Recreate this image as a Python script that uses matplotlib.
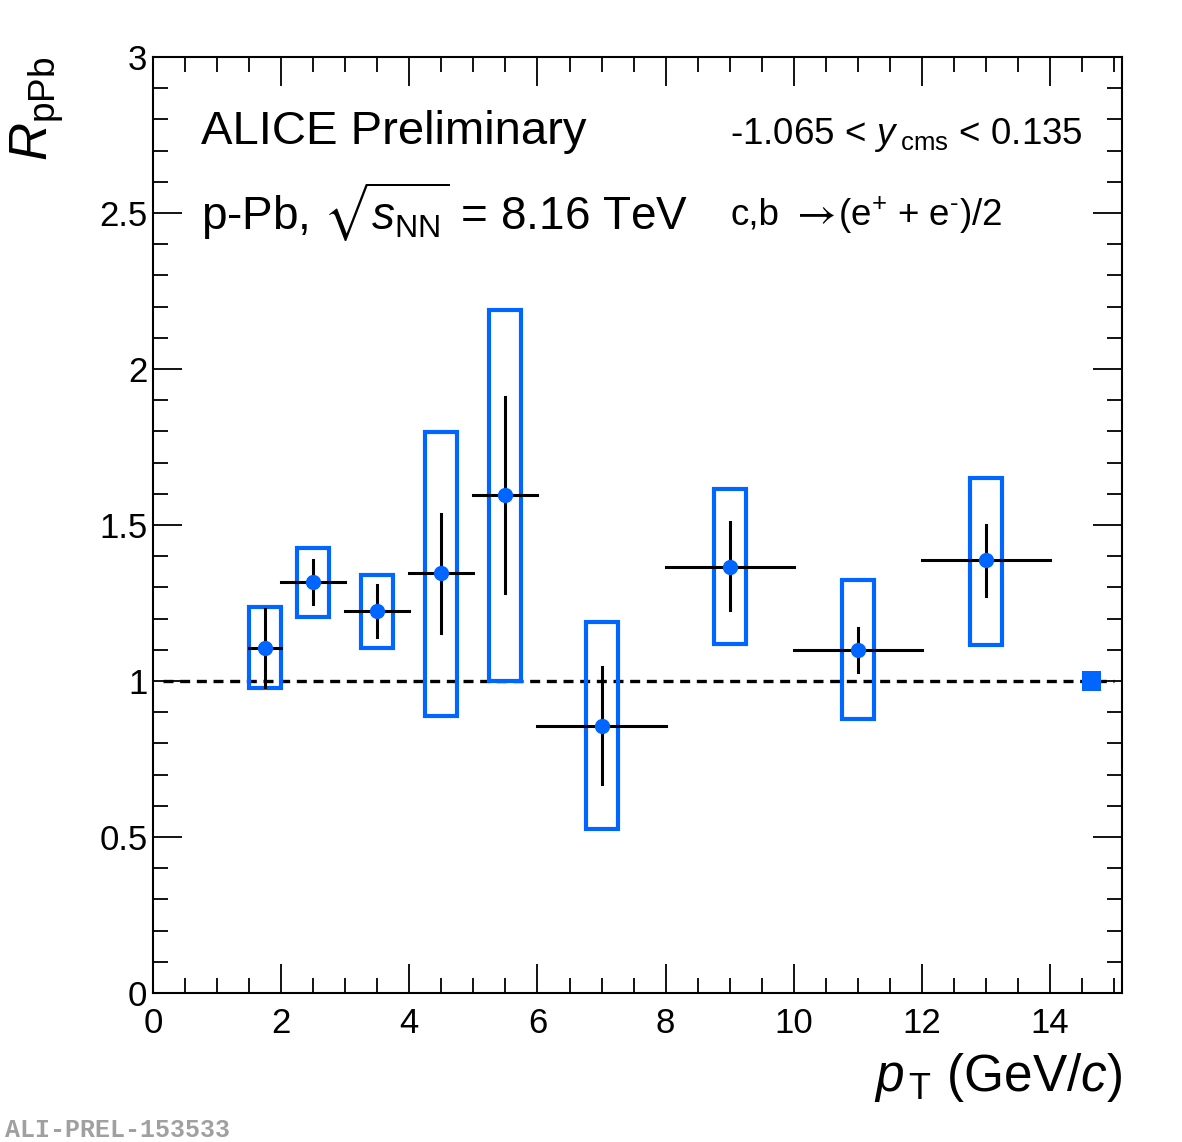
import matplotlib
matplotlib.use("Agg")
import matplotlib.pyplot as plt
from matplotlib.patches import Rectangle
from matplotlib.ticker import MultipleLocator

plt.rcParams['font.family'] = ['Liberation Sans', 'DejaVu Sans']
plt.rcParams['mathtext.fontset'] = 'custom'
plt.rcParams['mathtext.rm'] = 'Liberation Sans'
plt.rcParams['mathtext.it'] = 'Liberation Sans:italic'
plt.rcParams['mathtext.sf'] = 'Liberation Sans'
plt.rcParams['mathtext.fallback'] = 'stixsans'

# pT bins and R_pPb values
pt = [1.75, 2.5, 3.5, 4.5, 5.5, 7.0, 9.0, 11.0, 13.0]
pt_lo = [1.5, 2.0, 3.0, 4.0, 5.0, 6.0, 8.0, 10.0, 12.0]
pt_hi = [2.0, 3.0, 4.0, 5.0, 6.0, 8.0, 10.0, 12.0, 14.0]
rppb = [1.106, 1.317, 1.224, 1.346, 1.596, 0.856, 1.365, 1.099, 1.388]
stat_hi = [1.23, 1.388, 1.308, 1.535, 1.91, 1.045, 1.51, 1.17, 1.50]
stat_lo = [0.98, 1.247, 1.141, 1.154, 1.282, 0.67, 1.228, 1.029, 1.272]
sys_hi = [1.237, 1.426, 1.34, 1.798, 2.189, 1.189, 1.615, 1.324, 1.651]
sys_lo = [0.978, 1.205, 1.106, 0.888, 1.0, 0.526, 1.119, 0.878, 1.115]
norm_unc = 0.032

blue = '#0066ff'

fig = plt.figure(figsize=(11.82, 11.42), dpi=100)
ax = fig.add_axes([0.1294, 0.1305, 0.8198, 0.8195])

# reference line at unity
ax.plot([0.15, 15.0], [1, 1], color='black', lw=2.4, ls=(0, (3, 2)), zorder=1)

# systematic boxes
for x, lo, hi in zip(pt, sys_lo, sys_hi):
    ax.add_patch(Rectangle((x - 0.25, lo), 0.5, hi - lo, fill=False,
                           edgecolor=blue, lw=3.0, zorder=2))

# statistical errors and bin widths
for x, y, xl, xh, yl, yh in zip(pt, rppb, pt_lo, pt_hi, stat_lo, stat_hi):
    ax.plot([xl, xh], [y, y], color='black', lw=2.2, zorder=3)
    ax.plot([x, x], [yl, yh], color='black', lw=2.2, zorder=3)
ax.plot(pt, rppb, 'o', color=blue, ms=10, zorder=4)

# normalisation uncertainty
ax.add_patch(Rectangle((14.5, 1 - norm_unc), 0.3, 2 * norm_unc,
                       facecolor=blue, edgecolor='none', zorder=4))

ax.set_xlim(0, 15.12)
ax.set_ylim(0, 3)
ax.xaxis.set_minor_locator(MultipleLocator(0.5))
ax.yaxis.set_minor_locator(MultipleLocator(0.1))
ax.tick_params(which='both', direction='in', top=True, right=True, width=1.3,
               labelsize=25)
ax.tick_params(which='major', length=21)
ax.tick_params(which='minor', length=10.5)
ax.tick_params(axis='x', pad=10)
ax.tick_params(axis='y', pad=4)
ax.set_xticks([0, 2, 4, 6, 8, 10, 12, 14])
ax.set_xticklabels(['0', '2', '4', '6', '8', '10', '12', '14'])
ax.set_yticks([0, 0.5, 1, 1.5, 2, 2.5, 3])
ax.set_yticklabels(['0', '0.5', '1', '1.5', '2', '2.5', '3'])
for s in ax.spines.values():
    s.set_linewidth(1.5)

ax.set_xlabel(r'$p_{\,\rm T}$ (GeV/$c$)', fontsize=37, loc='right', labelpad=8)
ax.set_ylabel(r'$R_{\rm pPb}$', fontsize=38, loc='top', labelpad=24)

ax.text(0.05, 0.92, 'ALICE Preliminary', transform=ax.transAxes, fontsize=34,
        va='center')
ax.text(0.05, 0.834, r'p-Pb, $\sqrt{s_{\rm NN}}$ = 8.16 TeV', transform=ax.transAxes,
        fontsize=33, va='center')
ax.text(0.595, 0.917, r'-1.065 < $y_{\;\rm cms}$ < 0.135', transform=ax.transAxes,
        fontsize=26.5, va='center')
ax.text(0.5965, 0.831, 'c,b', transform=ax.transAxes, fontsize=26.5, va='center')
ax.text(0.681, 0.833, r'$\rightarrow$', transform=ax.transAxes, fontsize=31,
        va='center', ha='center', math_fontfamily='stixsans')
ax.text(0.707, 0.831, r'(e$^{+}$ + e$^{' + '\u2010' + r'}$)/2',
        transform=ax.transAxes, fontsize=26.5, va='center')

fig.text(0.004, 0.004, 'ALI-PREL-153533', fontsize=18, color='#a0a0a0',
         family=['Liberation Mono', 'DejaVu Sans Mono'], weight='bold')

fig.savefig('out.png', dpi=100)
